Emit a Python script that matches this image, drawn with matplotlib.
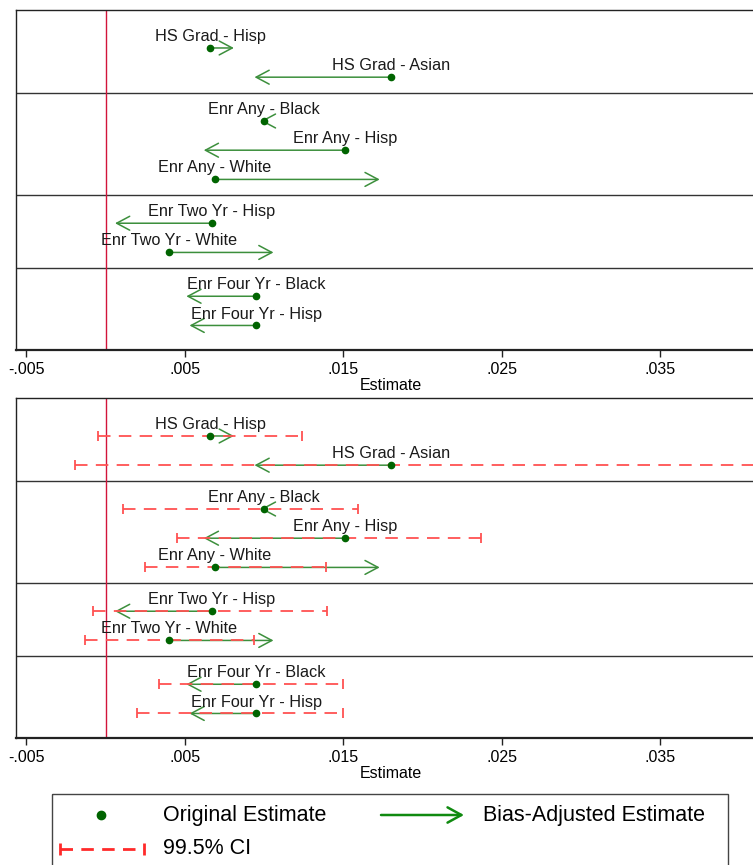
import matplotlib
matplotlib.use("Agg")
import matplotlib.pyplot as plt
from matplotlib.patches import Rectangle

plt.rcParams['font.family'] = ['Liberation Sans', 'DejaVu Sans']
plt.rcParams['lines.scale_dashes'] = False

# ---------------- data ----------------
labels = ["HS Grad - Hisp", "HS Grad - Asian",
          "Enr Any - Black", "Enr Any - Hisp", "Enr Any - White",
          "Enr Two Yr - Hisp", "Enr Two Yr - White",
          "Enr Four Yr - Black", "Enr Four Yr - Hisp"]
groups = [0, 0, 1, 1, 1, 2, 2, 3, 3]
original = [0.0066, 0.0180, 0.0100, 0.0151, 0.0069, 0.0067, 0.0040, 0.0095, 0.0095]
adjusted = [0.0081, 0.0094, 0.0098, 0.0062, 0.0173, 0.0006, 0.0106, 0.0051, 0.0053]
ci_low = [-0.0005, -0.0019, 0.0011, 0.0045, 0.0025, -0.0008, -0.0013, 0.0034, 0.0020]
ci_high = [0.0124, 0.0440, 0.0159, 0.0237, 0.0139, 0.0140, 0.0094, 0.0150, 0.0150]
xticks = [-0.005, 0.005, 0.015, 0.025, 0.035]
xticklabels = ["-.005", ".005", ".015", ".025", ".035"]
ref_line = 0.0

W, H = 753, 865
fig = plt.figure(figsize=(W / 100, H / 100), dpi=100)

GREEN = '#3C8F3C'
DKGREEN = '#006400'
RED = '#FF5252'
VRED = '#D2143A'

# row positions (layout)
ypos = [i + 0.5 * g for i, g in enumerate(groups)]
seps = [ypos[i - 1] + 0.54 for i in range(1, len(groups)) if groups[i] != groups[i - 1]]


def make_panel(top_px, show_ci):
    ax = fig.add_axes([16 / W, (H - (top_px + 340)) / H, (765 - 16) / W, 340 / H])
    ax.set_xlim(-0.005647, 0.04161)
    ax.set_ylim(10.34, -1.30)
    ax.set_yticks([])
    ax.set_xticks(xticks)
    ax.set_xticklabels(xticklabels, fontsize=11.5)
    ax.tick_params(axis='x', length=5, width=1, pad=4, color='#222222')
    for s in ['top', 'left']:
        ax.spines[s].set_linewidth(1.0)
        ax.spines[s].set_color('#222222')
    ax.spines['bottom'].set_linewidth(1.6)
    ax.spines['bottom'].set_color('#222222')
    ax.spines['right'].set_visible(False)
    ax.set_xlabel("Estimate", fontsize=11.5, labelpad=0)
    for s in seps:
        ax.axhline(s, color='#333333', lw=1.0, zorder=1)
    ax.axvline(ref_line, color=VRED, lw=1.0, zorder=2)
    for i in range(len(labels)):
        y = ypos[i]
        ax.annotate('', xy=(adjusted[i], y), xytext=(original[i], y),
                    arrowprops=dict(arrowstyle='->,head_length=0.94,head_width=0.5',
                                    color=GREEN, lw=1.1, shrinkA=0, shrinkB=0,
                                    mutation_scale=10), zorder=3)
        if show_ci:
            ax.plot([ci_low[i], ci_high[i]], [y, y], color=RED, lw=1.3,
                    dashes=(9, 6), zorder=4)
            ax.plot([ci_low[i], ci_high[i]], [y, y], ls='none', marker='|',
                    markersize=7, mew=1.3, color=RED, zorder=4)
        ax.plot([original[i]], [y], marker='o', ms=4.5, color=DKGREEN,
                ls='none', zorder=5)
        ax.annotate(labels[i], xy=(original[i], y), xytext=(0, 5),
                    textcoords='offset points', ha='center', va='baseline',
                    fontsize=11.7, color='#1a1a1a', zorder=6)
    return ax


make_panel(10, False)
make_panel(398, True)

# ---------------- legend ----------------
lax = fig.add_axes([0, 0, 1, 1])
lax.set_xlim(0, W)
lax.set_ylim(H, 0)
lax.axis('off')
lax.add_patch(Rectangle((52, 794), 728 - 52, 120, fill=False,
                        edgecolor='#444444', lw=1.0))
lax.plot([101], [815], marker='o', ms=6, color=DKGREEN, ls='none')
lax.text(163, 815, "Original Estimate", fontsize=15.5, va='center', ha='left')
lax.annotate('', xy=(464, 815), xytext=(381, 815),
             arrowprops=dict(arrowstyle='->,head_length=1.0,head_width=0.55',
                             color='#108A10', lw=1.8, shrinkA=0, shrinkB=0,
                             mutation_scale=10))
lax.text(483, 815, "Bias-Adjusted Estimate", fontsize=15.5, va='center', ha='left')
lax.plot([60, 144], [849, 849], color='#FF2A2A', lw=2, dashes=(9, 6))
lax.plot([60, 144], [849, 849], ls='none', marker='|', ms=9, mew=2, color='#FF2A2A')
lax.text(163, 849, "99.5% CI", fontsize=15.5, va='center', ha='left')

fig.savefig("out.png", dpi=100)
